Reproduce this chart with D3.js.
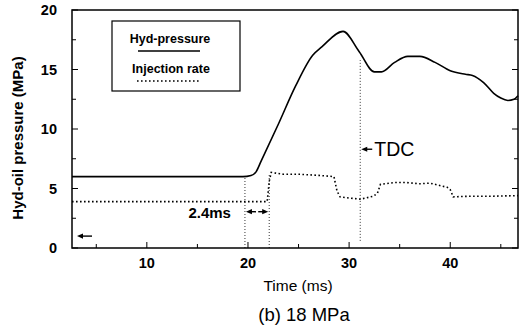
<!DOCTYPE html>
<html>
<head>
<meta charset="utf-8">
<script src="https://cdn.jsdelivr.net/npm/d3@7"></script>
<style>
  body { margin: 0; background: #fff; }
  text { font-family: "Liberation Sans", Arial, sans-serif; fill: #000; }
</style>
</head>
<body>
<script>
const W = 528, H = 331;
const m = { top: 10, right: 10, bottom: 83, left: 72 };

// hydraulic pressure trace (ms, MPa)
const hydTime = [2.6, 19.5, 20.3, 20.8, 21.3, 23.0, 24.7, 26.4, 27.3, 29.4, 31.0, 32.5, 33.2, 34.5, 35.8, 37.0, 38.5, 40.0, 41.5, 42.2, 43.3, 44.3, 45.0, 45.7, 46.3, 46.7];
const hydVal = [6.0, 6.0, 6.1, 6.4, 7.3, 10.4, 13.6, 16.2, 16.9, 18.2, 16.5, 14.8, 14.8, 15.6, 16.1, 16.1, 15.6, 14.9, 14.6, 14.5, 13.9, 13.0, 12.6, 12.4, 12.5, 12.8];

// injection rate trace (ms, arbitrary MPa scale)
const injTime = [2.6, 21.9, 22.1, 22.3, 23.5, 25.0, 27.0, 28.5, 28.8, 29.1, 30.0, 31.1, 32.4, 32.8, 33.1, 34.5, 35.6, 37.0, 38.0, 39.7, 40.0, 40.3, 42.0, 44.0, 46.7];
const injVal = [3.9, 3.9, 5.6, 6.35, 6.2, 6.2, 6.1, 6.0, 4.8, 4.3, 4.2, 4.1, 4.35, 4.6, 5.35, 5.5, 5.5, 5.4, 5.45, 5.1, 4.9, 4.3, 4.35, 4.35, 4.4];

const yTicks = [0, 5, 10, 15, 20];
const yMinor = [2.5, 7.5, 12.5, 17.5];
const xTicks = [10, 20, 30, 40];
const xMinor = [5, 15, 25, 35, 45];

const startMs = 19.7, injStartMs = 22.1, tdcMs = 31.1;

const svg = d3.select("body").append("svg").attr("width", W).attr("height", H);

const x = d3.scaleLinear().domain([2.6, 46.7]).range([m.left, W - m.right]);
const y = d3.scaleLinear().domain([0, 20]).range([H - m.bottom, m.top]);

const g = svg.append("g");

// frame
g.append("rect")
  .attr("x", x.range()[0]).attr("y", y.range()[1])
  .attr("width", x.range()[1] - x.range()[0])
  .attr("height", y.range()[0] - y.range()[1])
  .attr("fill", "none").attr("stroke", "#000").attr("stroke-width", 1.5);

// inward ticks
const tickL = 6, minorL = 4;
yTicks.concat(yMinor).forEach(v => {
  const len = yTicks.includes(v) ? tickL : minorL;
  g.append("line").attr("x1", x.range()[0]).attr("x2", x.range()[0] + len)
    .attr("y1", y(v)).attr("y2", y(v)).attr("stroke", "#000");
  g.append("line").attr("x1", x.range()[1]).attr("x2", x.range()[1] - len)
    .attr("y1", y(v)).attr("y2", y(v)).attr("stroke", "#000");
});
xTicks.concat(xMinor).forEach(v => {
  const len = xTicks.includes(v) ? tickL : minorL;
  g.append("line").attr("x1", x(v)).attr("x2", x(v))
    .attr("y1", y(0)).attr("y2", y(0) - len).attr("stroke", "#000");
});

// tick labels
g.selectAll(".ylab").data(yTicks).enter().append("text")
  .attr("x", m.left - 15).attr("y", d => y(d) + 5)
  .attr("text-anchor", "end").attr("font-size", 14.5).attr("font-weight", "bold")
  .text(d => d);
g.selectAll(".xlab").data(xTicks).enter().append("text")
  .attr("x", d => x(d)).attr("y", y(0) + 20)
  .attr("text-anchor", "middle").attr("font-size", 14.5).attr("font-weight", "bold")
  .text(d => d);

// axis titles
svg.append("text")
  .attr("transform", `translate(23, 138) rotate(-90)`)
  .attr("text-anchor", "middle").attr("font-size", 15).attr("font-weight", "bold")
  .text("Hyd-oil pressure (MPa)");
svg.append("text").attr("x", 298).attr("y", 291)
  .attr("text-anchor", "middle").attr("font-size", 15.5)
  .text("Time (ms)");
svg.append("text").attr("x", 304).attr("y", 321)
  .attr("text-anchor", "middle").attr("font-size", 18.5)
  .text("(b) 18 MPa");

// curves
const line = d3.line().x(d => x(d[0])).y(d => y(d[1])).curve(d3.curveMonotoneX);

g.append("path")
  .datum(hydTime.map((t, i) => [t, hydVal[i]]))
  .attr("d", line).attr("fill", "none").attr("stroke", "#000").attr("stroke-width", 1.6);

g.append("path")
  .datum(injTime.map((t, i) => [t, injVal[i]]))
  .attr("d", d3.line().x(d => x(d[0])).y(d => y(d[1])))
  .attr("fill", "none").attr("stroke", "#000").attr("stroke-width", 1.6)
  .attr("stroke-dasharray", "1.6,2.4");

// marker lines
const dotted = (ms, v0, v1) => g.append("line")
  .attr("x1", x(ms)).attr("x2", x(ms)).attr("y1", y(v0)).attr("y2", y(v1))
  .attr("stroke", "#000").attr("stroke-width", 0.8).attr("stroke-dasharray", "1,2");
dotted(startMs, 0, 6.0);
dotted(injStartMs, 0, 6.3);
dotted(tdcMs, 0.6, 15.8);

// arrow helper
function arrow(x1, yy, x2) {
  const dir = Math.sign(x2 - x1);
  g.append("line").attr("x1", x1).attr("x2", x2 - dir * 3).attr("y1", yy).attr("y2", yy)
    .attr("stroke", "#000").attr("stroke-width", 1.4);
  g.append("path")
    .attr("d", `M${x2},${yy} L${x2 - dir * 6},${yy - 2.6} L${x2 - dir * 6},${yy + 2.6} Z`)
    .attr("fill", "#000");
}

// 2.4 ms interval
const yMid = y(3.05);
arrow(x(startMs) + 11, yMid, x(startMs) + 1);
arrow(x(injStartMs) - 11, yMid, x(injStartMs) - 1);
g.append("text").attr("x", x(startMs) - 14).attr("y", yMid + 6)
  .attr("text-anchor", "end").attr("font-size", 15).attr("font-weight", "bold")
  .text("2.4ms");

// TDC label
const yT = y(8.3);
arrow(x(tdcMs) + 12, yT, x(tdcMs) + 1);
g.append("text").attr("x", x(tdcMs) + 14).attr("y", yT + 7)
  .attr("font-size", 19.5).text("TDC");

// zero level arrow
arrow(x(2.6) + 20, y(1.0), x(2.6) + 5);

// legend
const lg = g.append("g").attr("transform", "translate(112,21)");
lg.append("rect").attr("width", 128).attr("height", 70)
  .attr("fill", "#fff").attr("stroke", "#000").attr("stroke-width", 1.2);
lg.append("text").attr("x", 58).attr("y", 22).attr("text-anchor", "middle")
  .attr("font-size", 12.5).attr("font-weight", "bold").text("Hyd-pressure");
lg.append("line").attr("x1", 26).attr("x2", 88).attr("y1", 30).attr("y2", 30)
  .attr("stroke", "#000").attr("stroke-width", 1.5);
lg.append("text").attr("x", 59).attr("y", 52).attr("text-anchor", "middle")
  .attr("font-size", 12.5).attr("font-weight", "bold").text("Injection rate");
lg.append("line").attr("x1", 25).attr("x2", 88).attr("y1", 60).attr("y2", 60)
  .attr("stroke", "#000").attr("stroke-width", 1.5).attr("stroke-dasharray", "1.6,2.4");
</script>
</body>
</html>
